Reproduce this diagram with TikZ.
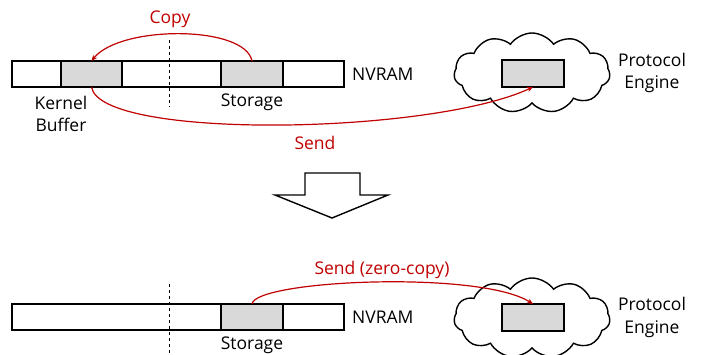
\documentclass[tikz,border=0pt]{standalone}
\usepackage{fontspec}
\setmainfont{Open Sans}
\usetikzlibrary{positioning,shapes.symbols,arrows.meta}
\definecolor{darkred}{RGB}{192,0,0}
\definecolor{cellgray}{RGB}{217,217,217}

\begin{document}
\begin{tikzpicture}[x=1pt, y=-1pt,
  cell/.style={draw, line width=1.4pt, minimum height=26pt, inner sep=0pt,
    outer sep=0pt, fill=white},
  gcell/.style={cell, fill=cellgray},
  flow/.style={draw=darkred, line width=1.2pt, -{Stealth[length=6pt, width=5pt]}},
  lbl/.style={font=\fontsize{17.5}{22.5}\selectfont, align=center, inner sep=0pt},
  rlbl/.style={lbl, text=darkred},
  puff/.style={cloud, draw, line width=1.4pt, cloud puffs=11, cloud puff arc=110,
    aspect=2, minimum width=156pt, minimum height=80pt, inner sep=0pt}]

  \useasboundingbox (0,0) rectangle (701,354);

  % before: copy into kernel buffer, then send
  \node[cell, minimum width=49pt, anchor=north west] (t1) at (12,61) {};
  \node[gcell, minimum width=61pt, right=0pt of t1] (tk) {};
  \node[cell, minimum width=99pt, right=0pt of tk] (t3) {};
  \node[gcell, minimum width=62pt, right=0pt of t3] (ts) {};
  \node[cell, minimum width=61pt, right=0pt of ts] (t5) {};
  \coordinate (td1) at (169,40);
  \coordinate (td2) at (169,107);
  \draw[line width=1pt, dashed] (td1) -- (td2);

  \node[lbl] (kernel) at (61,114) {Kernel\\Buffer};
  \node[lbl] (tstore) at (252,102) {Storage};
  \node[lbl, anchor=west] (tnv) at (352,74) {NVRAM};

  \node[puff] (tcloud) at (532,73) {};
  \node[gcell, minimum width=62pt, minimum height=27pt] (tpe) at (533,73.5) {};
  \node[lbl] (tproto) at (652,73) {Protocol\\Engine};

  \draw[flow] (ts.north) .. controls (245,25) and (120,25) .. (tk.north);
  \draw[flow] (tk.south) .. controls (100,140) and (430,135) .. (tpe.south);
  \node[rlbl] (copy) at (170,19) {Copy};
  \node[rlbl] (send) at (315,143) {Send};

  % big arrow
  \draw[line width=1.4pt, fill=white] (305,173) -- (360,173) -- (360,195)
    -- (388,195) -- (332,218) -- (275,195) -- (305,195) -- cycle;

  % after: zero-copy
  \node[cell, minimum width=209pt, anchor=north west] (b1) at (12,304) {};
  \node[gcell, minimum width=62pt, right=0pt of b1] (bs) {};
  \node[cell, minimum width=61pt, right=0pt of bs] (b3) {};
  \coordinate (bd1) at (169,284);
  \coordinate (bd2) at (169,356);
  \draw[line width=1pt, dashed] (bd1) -- (bd2);

  \node[lbl] (bstore) at (252,345) {Storage};
  \node[lbl, anchor=west] (bnv) at (352,317) {NVRAM};

  \node[puff] (bcloud) at (532,318) {};
  \node[gcell, minimum width=62pt, minimum height=27pt] (bpe) at (533,317.5) {};
  \node[lbl] (bproto) at (652,317.5) {Protocol\\Engine};

  \draw[flow] (bs.north) .. controls (255,280) and (480,270) .. (bpe.north);
  \node[rlbl] (zsend) at (382,270) {Send (zero-copy)};
\end{tikzpicture}
\end{document}
